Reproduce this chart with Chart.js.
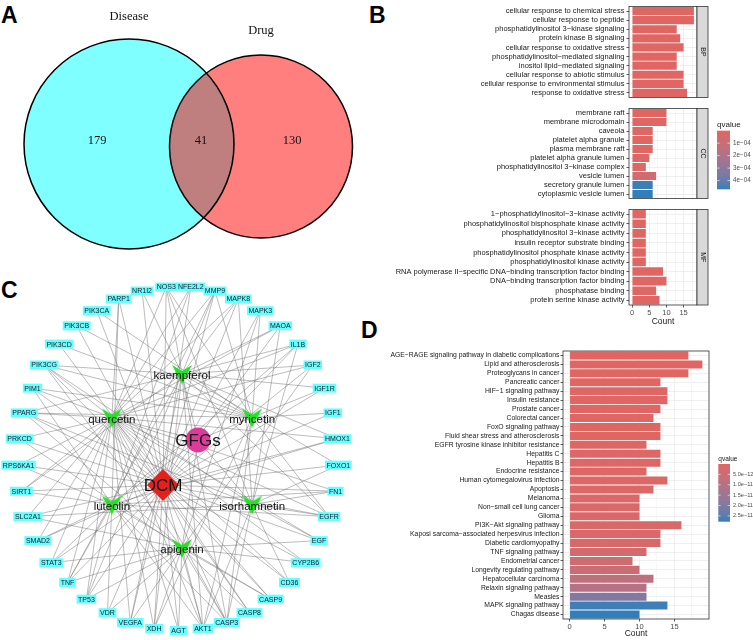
<!DOCTYPE html>
<html>
<head>
<meta charset="utf-8">
<script src="https://cdn.jsdelivr.net/npm/chart.js@4.4.0/dist/chart.umd.min.js"></script>
<style>
html, body { margin: 0; padding: 0; background: #fff; width: 753px; height: 640px; overflow: hidden; }
canvas { position: absolute; }
.tag { position: absolute; font: bold 23px "Liberation Sans", Arial, sans-serif; line-height: 23px; color: #000; }
</style>
</head>
<body>
<div class="tag" style="left:1px;top:4px">A</div>
<div class="tag" style="left:369px;top:4px">B</div>
<div class="tag" style="left:1px;top:279px">C</div>
<div class="tag" style="left:361px;top:319px">D</div>

<canvas id="venn" width="370" height="275" style="left:0;top:0"></canvas>
<canvas id="bp" width="373" height="104" style="left:380px;top:0"></canvas>
<canvas id="cc" width="373" height="103" style="left:380px;top:102px"></canvas>
<canvas id="mf" width="383" height="126" style="left:370px;top:203px"></canvas>
<canvas id="net" width="368" height="362" style="left:0;top:278px"></canvas>
<canvas id="kegg" width="383" height="295" style="left:370px;top:345px"></canvas>

<script>
// ---- données ----
// A : Venn
var vennNames = ['Disease', 'Drug'];
var vennCounts = [179, 41, 130];   // seulement Disease, commun, seulement Drug

// B : GO
var bpTerms = ['cellular response to chemical stress', 'cellular response to peptide', 'phosphatidylinositol 3\u2212kinase signaling',
  'protein kinase B signaling', 'cellular response to oxidative stress', 'phosphatidylinositol\u2212mediated signaling',
  'inositol lipid\u2212mediated signaling', 'cellular response to abiotic stimulus', 'cellular response to environmental stimulus',
  'response to oxidative stress'];
var bpCount = [18, 18, 13, 14, 15, 13, 13, 15, 15, 16];
var bpQ = [2e-7, 3e-7, 4e-7, 5e-7, 6e-7, 7e-7, 7e-7, 8e-7, 8e-7, 9e-7];

var ccTerms = ['membrane raft', 'membrane microdomain', 'caveola', 'platelet alpha granule', 'plasma membrane raft',
  'platelet alpha granule lumen', 'phosphatidylinositol 3\u2212kinase complex', 'vesicle lumen', 'secretory granule lumen',
  'cytoplasmic vesicle lumen'];
var ccCount = [10, 10, 6, 6, 6, 5, 4, 7, 6, 6];
var ccQ = [2e-6, 2e-6, 5e-6, 8e-6, 8e-6, 1.5e-5, 2e-5, 6e-5, 4.6e-4, 4.7e-4];

var mfTerms = ['1\u2212phosphatidylinositol\u22123\u2212kinase activity', 'phosphatidylinositol bisphosphate kinase activity',
  'phosphatidylinositol 3\u2212kinase activity', 'insulin receptor substrate binding', 'phosphatidylinositol phosphate kinase activity',
  'phosphatidylinositol kinase activity', 'RNA polymerase II\u2212specific DNA\u2212binding transcription factor binding',
  'DNA\u2212binding transcription factor binding', 'phosphatase binding', 'protein serine kinase activity'];
var mfCount = [4, 4, 4, 4, 4, 4, 9, 10, 7, 8];
var mfQ = [1e-6, 1e-6, 1e-6, 1e-6, 2e-6, 2e-6, 3e-6, 3e-6, 4e-6, 5e-6];
var bQticks = [1e-4, 2e-4, 3e-4, 4e-4];
var bQlabels = ['1e\u221204', '2e\u221204', '3e\u221204', '4e\u221204'];

// C : réseau
var genes = ['AGT', 'AKT1', 'CASP3', 'CASP8', 'CASP9', 'CD36', 'CYP2B6', 'EGF', 'EGFR', 'FN1', 'FOXO1', 'HMOX1', 'IGF1',
  'IGF1R', 'IGF2', 'IL1B', 'MAOA', 'MAPK3', 'MAPK8', 'MMP9', 'NFE2L2', 'NOS3', 'NR1I2', 'PARP1', 'PIK3CA', 'PIK3CB',
  'PIK3CD', 'PIK3CG', 'PIM1', 'PPARG', 'PRKCD', 'RPS6KA1', 'SIRT1', 'SLC2A1', 'SMAD2', 'STAT3', 'TNF', 'TP53', 'VDR',
  'VEGFA', 'XDH'];
var compounds = ['kaempferol', 'myricetin', 'isorhamnetin', 'apigenin', 'luteolin', 'quercetin'];
var quercetinTargets = ['AKT1', 'TNF', 'VEGFA', 'TP53', 'CASP3', 'CASP8', 'CASP9', 'EGFR', 'EGF', 'IL1B', 'MMP9', 'MAPK8', 'NOS3',
  'NFE2L2', 'HMOX1', 'PPARG', 'PIM1', 'PRKCD', 'SIRT1', 'STAT3', 'SLC2A1', 'PARP1', 'PIK3CG', 'XDH', 'FN1', 'CD36', 'MAOA',
  'IGF2', 'CYP2B6', 'AGT', 'RPS6KA1', 'SMAD2'];
var kaempferolTargets = ['AKT1', 'PPARG', 'CASP3', 'TNF', 'NOS3', 'PIK3CG', 'MAPK8', 'VEGFA', 'SIRT1', 'IGF1R', 'HMOX1', 'EGFR',
  'MMP9', 'FOXO1', 'IL1B', 'MAOA', 'NR1I2', 'XDH', 'IGF2', 'TP53'];
var myricetinTargets = ['PIK3CA', 'PIK3CB', 'PIK3CD', 'PIK3CG', 'AKT1', 'MAPK3', 'MMP9', 'NOS3', 'IGF1R', 'IGF1', 'EGFR', 'XDH',
  'CASP3', 'PIM1', 'PPARG'];
var luteolinTargets = ['AKT1', 'TNF', 'TP53', 'STAT3', 'EGFR', 'MMP9', 'CASP3', 'CASP9', 'SIRT1', 'PIM1', 'PARP1', 'IL1B', 'NFE2L2',
  'HMOX1', 'SMAD2', 'RPS6KA1', 'FN1', 'VDR'];
var isorhamnetinTargets = ['AKT1', 'PIK3CG', 'CASP3', 'MAPK8', 'PPARG', 'FOXO1', 'FN1', 'EGF', 'NOS3', 'MAOA', 'IL1B', 'CD36',
  'EGFR', 'SLC2A1'];
var apigeninTargets = ['AKT1', 'CASP3', 'CASP8', 'CASP9', 'TP53', 'VEGFA', 'STAT3', 'TNF', 'PPARG', 'PIK3CG', 'VDR', 'AGT', 'XDH',
  'CYP2B6', 'IGF2', 'EGF', 'MAPK3', 'SLC2A1', 'PRKCD'];

// D : KEGG
var keggTerms = ['AGE\u2212RAGE signaling pathway in diabetic complications', 'Lipid and atherosclerosis', 'Proteoglycans in cancer',
  'Pancreatic cancer', 'HIF\u22121 signaling pathway', 'Insulin resistance', 'Prostate cancer', 'Colorectal cancer',
  'FoxO signaling pathway', 'Fluid shear stress and atherosclerosis', 'EGFR tyrosine kinase inhibitor resistance',
  'Hepatitis C', 'Hepatitis B', 'Endocrine resistance', 'Human cytomegalovirus infection', 'Apoptosis', 'Melanoma',
  'Non\u2212small cell lung cancer', 'Glioma', 'PI3K\u2212Akt signaling pathway', 'Kaposi sarcoma\u2212associated herpesvirus infection',
  'Diabetic cardiomyopathy', 'TNF signaling pathway', 'Endometrial cancer', 'Longevity regulating pathway',
  'Hepatocellular carcinoma', 'Relaxin signaling pathway', 'Measles', 'MAPK signaling pathway', 'Chagas disease'];
var keggCount = [17, 19, 17, 13, 14, 14, 13, 12, 13, 13, 11, 13, 13, 11, 14, 12, 10, 10, 10, 16, 13, 13, 11, 9, 10, 12, 11, 11, 14, 10];
var keggQ = [6e-15, 6e-14, 1e-13, 1.5e-13, 2.4e-13, 2.4e-13, 3e-13, 4e-13, 4.5e-13, 4.5e-13, 6e-13, 8e-13, 8e-13, 1.1e-12,
  1.3e-12, 1.4e-12, 1.6e-12, 1.6e-12, 1.6e-12, 1.8e-12, 2.2e-12, 2.2e-12, 3.3e-12, 4.4e-12, 5.6e-12, 8.2e-12, 1.05e-11,
  1.95e-11, 2.7e-11, 2.78e-11];
var keggQticks = [5e-12, 1e-11, 1.5e-11, 2e-11, 2.5e-11];
var keggQlabels = ['5.0e\u221212', '1.0e\u221211', '1.5e\u221211', '2.0e\u221211', '2.5e\u221211'];

// ---- réglages communs ----
Chart.defaults.font.family = '"Liberation Sans", Arial, sans-serif';
Chart.defaults.animation = false;
Chart.defaults.responsive = false;
Chart.defaults.events = [];
Chart.defaults.plugins.legend.display = false;
Chart.defaults.plugins.tooltip.enabled = false;
Chart.defaults.layout.autoPadding = false;

// couleurs qvalue : interpolation Lab entre rouge et bleu (comme ggplot)
function hexRgb(h) {
  return [parseInt(h.substr(1, 2), 16), parseInt(h.substr(3, 2), 16), parseInt(h.substr(5, 2), 16)];
}
function toLab(c) {
  var v = c.map(function (k) { k /= 255; return k > 0.04045 ? Math.pow((k + 0.055) / 1.055, 2.4) : k / 12.92; });
  var x = (v[0] * 0.4124 + v[1] * 0.3576 + v[2] * 0.1805) / 0.95047;
  var y = v[0] * 0.2126 + v[1] * 0.7152 + v[2] * 0.0722;
  var z = (v[0] * 0.0193 + v[1] * 0.1192 + v[2] * 0.9505) / 1.08883;
  var f = function (t) { return t > 0.008856 ? Math.cbrt(t) : 7.787 * t + 16 / 116; };
  x = f(x); y = f(y); z = f(z);
  return [116 * y - 16, 500 * (x - y), 200 * (y - z)];
}
function fromLab(l) {
  var y = (l[0] + 16) / 116, x = l[1] / 500 + y, z = y - l[2] / 200;
  var g = function (t) { return t * t * t > 0.008856 ? t * t * t : (t - 16 / 116) / 7.787; };
  x = g(x) * 0.95047; y = g(y); z = g(z) * 1.08883;
  var rgb = [x * 3.2406 - y * 1.5372 - z * 0.4986, -x * 0.9689 + y * 1.8758 + z * 0.0415, x * 0.0557 - y * 0.2040 + z * 1.0570];
  return rgb.map(function (k) {
    k = k > 0.0031308 ? 1.055 * Math.pow(k, 1 / 2.4) - 0.055 : 12.92 * k;
    return Math.round(Math.max(0, Math.min(1, k)) * 255);
  });
}
var LOW = toLab(hexRgb('#e06663')), HIGH = toLab(hexRgb('#327eba'));
function qColor(q, lo, hi) {
  var t = Math.max(0, Math.min(1, (q - lo) / (hi - lo)));
  var c = fromLab(LOW.map(function (v, i) { return v + (HIGH[i] - v) * t; }));
  return 'rgb(' + c[0] + ',' + c[1] + ',' + c[2] + ')';
}

var allB = bpQ.concat(ccQ, mfQ);
var bQmin = Math.min.apply(null, allB), bQmax = Math.max.apply(null, allB);
var kQmin = Math.min.apply(null, keggQ), kQmax = Math.max.apply(null, keggQ);

// ---- A : diagramme de Venn ----
var vennLayout = [{ x: 129, y: 144, r: 105 }, { x: 261, y: 146.5, r: 91.5 }];
function radiusPx(ctx, r) {
  var sx = ctx.chart.scales.x;
  return sx.getPixelForValue(r) - sx.getPixelForValue(0);
}
var vennText = {
  id: 'vennText',
  afterDatasetsDraw: function (chart) {
    var c = chart.ctx, sx = chart.scales.x, sy = chart.scales.y;
    c.save();
    c.fillStyle = '#111';
    c.textAlign = 'center';
    c.textBaseline = 'middle';
    c.font = '12.5px "Liberation Serif", "Times New Roman", serif';
    c.fillText(vennNames[0], sx.getPixelForValue(129), sy.getPixelForValue(17));
    c.fillText(vennNames[1], sx.getPixelForValue(261), sy.getPixelForValue(30.5));
    var pos = [97, 201, 292];
    vennCounts.forEach(function (n, i) {
      c.fillText(String(n), sx.getPixelForValue(pos[i]), sy.getPixelForValue(141));
    });
    c.restore();
  }
};
new Chart(document.getElementById('venn'), {
  type: 'scatter',
  data: {
    datasets: [
      { data: [vennLayout[0]], order: 1, pointRadius: function (ctx) { return radiusPx(ctx, vennLayout[0].r); },
        backgroundColor: 'rgba(0,0,0,0)', borderColor: '#000', borderWidth: 1.5 },
      { data: [vennLayout[1]], order: 2, pointRadius: function (ctx) { return radiusPx(ctx, vennLayout[1].r); },
        backgroundColor: 'rgba(0,0,0,0)', borderColor: '#000', borderWidth: 1.5 },
      { data: [vennLayout[1]], order: 3, pointRadius: function (ctx) { return radiusPx(ctx, vennLayout[1].r); },
        backgroundColor: 'rgba(255,0,0,0.5)', borderWidth: 0 },
      { data: [vennLayout[0]], order: 4, pointRadius: function (ctx) { return radiusPx(ctx, vennLayout[0].r); },
        backgroundColor: 'rgba(0,255,255,0.5)', borderWidth: 0 }
    ]
  },
  options: {
    layout: { padding: 0 },
    scales: {
      x: { type: 'linear', min: 0, max: 370, display: false },
      y: { type: 'linear', min: 0, max: 275, reverse: true, display: false }
    }
  },
  plugins: [vennText]
});

// ---- B / D : barres ----
function xScale(min, max, withAxis, height) {
  return {
    type: 'linear', min: min, max: max,
    afterFit: function (s) { s.height = withAxis ? height : 0; },
    border: { display: false },
    grid: {
      color: '#ebebeb',
      lineWidth: function (ctx) { return ctx.tick && ctx.tick.value % 5 === 0 ? 0.8 : 0.4; },
      drawTicks: withAxis, tickLength: 2.5,
      tickColor: function (ctx) { return ctx.tick && ctx.tick.value % 5 === 0 ? '#333' : 'rgba(0,0,0,0)'; }
    },
    ticks: {
      display: withAxis, stepSize: 2.5, includeBounds: false, autoSkip: false, maxRotation: 0,
      padding: 0.5, color: '#4d4d4d', font: { size: 7.5 },
      callback: function (v) { return v % 5 === 0 ? v : ''; }
    },
    title: { display: withAxis, text: 'Count', color: '#1a1a1a', font: { size: 8.5 }, padding: 0 }
  };
}
function yScale(width, size, pad) {
  return {
    type: 'category',
    afterFit: function (s) { s.width = width; },
    border: { display: false },
    grid: { color: '#ebebeb', lineWidth: 0.8, offset: false, tickLength: 2.5, tickColor: '#333' },
    ticks: { autoSkip: false, color: '#1a1a1a', font: { size: size }, padding: pad }
  };
}
function drawColourBar(c, x, y0, y1, w, lo, hi, ticks, labels, title, tSize, lSize) {
  var grad = c.createLinearGradient(0, y0, 0, y1);
  for (var i = 0; i <= 20; i++) grad.addColorStop(i / 20, qColor(lo + (hi - lo) * i / 20, lo, hi));
  c.fillStyle = grad;
  c.fillRect(x, y0, w, y1 - y0);
  c.fillStyle = '#1a1a1a';
  c.font = tSize + 'px "Liberation Sans", Arial, sans-serif';
  c.textAlign = 'left';
  c.textBaseline = 'bottom';
  c.fillText(title, x, y0 - 2);
  c.font = lSize + 'px "Liberation Sans", Arial, sans-serif';
  c.textBaseline = 'middle';
  ticks.forEach(function (t, i) {
    var ty = y0 + (t - lo) / (hi - lo) * (y1 - y0);
    c.strokeStyle = '#fff';
    c.lineWidth = 0.6;
    c.beginPath();
    c.moveTo(x, ty); c.lineTo(x + w * 0.2, ty);
    c.moveTo(x + w * 0.8, ty); c.lineTo(x + w, ty);
    c.stroke();
    c.fillStyle = '#4d4d4d';
    c.fillText(labels[i], x + w + 3, ty);
  });
}
function panelPlugin(stripText, legend) {
  return {
    id: 'panel',
    afterDatasetsDraw: function (chart) {
      var a = chart.chartArea, c = chart.ctx;
      c.save();
      c.strokeStyle = '#333';
      c.lineWidth = 0.8;
      c.strokeRect(a.left, a.top, a.right - a.left, a.bottom - a.top);
      if (stripText) {
        c.fillStyle = '#d9d9d9';
        c.fillRect(a.right, a.top, 11, a.bottom - a.top);
        c.strokeRect(a.right, a.top, 11, a.bottom - a.top);
        c.save();
        c.translate(a.right + 5.5, (a.top + a.bottom) / 2);
        c.rotate(Math.PI / 2);
        c.fillStyle = '#1a1a1a';
        c.font = '7px "Liberation Sans", Arial, sans-serif';
        c.textAlign = 'center';
        c.textBaseline = 'middle';
        c.fillText(stripText, 0, 0);
        c.restore();
      }
      if (legend) legend(c);
      c.restore();
    }
  };
}
function facet(id, terms, counts, qs, stripText, withAxis, yWidth, legend) {
  return new Chart(document.getElementById(id), {
    type: 'bar',
    data: {
      labels: terms,
      datasets: [{ data: counts, backgroundColor: qs.map(function (q) { return qColor(q, bQmin, bQmax); }),
        barPercentage: 0.9, categoryPercentage: 1, borderWidth: 0 }]
    },
    options: {
      indexAxis: 'y',
      layout: { padding: { top: 3, bottom: withAxis ? 2 : 3, left: 0, right: 56 } },
      scales: { x: xScale(-0.9, 18.9, withAxis, 22), y: yScale(yWidth, 7.5, 2) }
    },
    plugins: [panelPlugin(stripText, legend)]
  });
}
facet('bp', bpTerms, bpCount, bpQ, 'BP', false, 249, null);
facet('cc', ccTerms, ccCount, ccQ, 'CC', false, 249, function (c) {
  drawColourBar(c, 337, 28.7, 87.3, 13, bQmin, bQmax, bQticks, bQlabels, 'qvalue', 8, 6.3);
});
facet('mf', mfTerms, mfCount, mfQ, 'MF', true, 259, null);

new Chart(document.getElementById('kegg'), {
  type: 'bar',
  data: {
    labels: keggTerms,
    datasets: [{ data: keggCount, backgroundColor: keggQ.map(function (q) { return qColor(q, kQmin, kQmax); }),
      barPercentage: 0.9, categoryPercentage: 1, borderWidth: 0 }]
  },
  options: {
    indexAxis: 'y',
    layout: { padding: { top: 6, bottom: 1, left: 0, right: 44 } },
    scales: { x: xScale(-0.95, 19.95, true, 20), y: yScale(193, 6.8, 1) }
  },
  plugins: [panelPlugin(null, function (c) {
    drawColourBar(c, 348.3, 119, 176.7, 11.7, kQmin, kQmax, keggQticks, keggQlabels, 'qvalue', 6.5, 5.6);
  })]
});

// ---- C : réseau ----
var netCentre = { x: 178.5, y: 458.5, rx: 160, ry: 172 };
var hexCentre = { x: 182, y: 461, rx: 81, ry: 87 };
var compoundAngle = [-90, -30, 30, 90, 150, 210];
var hubPos = { GFGs: { x: 198, y: 440 }, DCM: { x: 163, y: 485 } };

var genePos = {};
genes.forEach(function (g, i) {
  var a = (90 - i * 360 / genes.length) * Math.PI / 180;
  genePos[g] = { x: netCentre.x + netCentre.rx * Math.cos(a), y: netCentre.y + netCentre.ry * Math.sin(a) };
});
var compPos = {};
compounds.forEach(function (n, i) {
  var a = compoundAngle[i] * Math.PI / 180;
  compPos[n] = { x: hexCentre.x + hexCentre.rx * Math.cos(a), y: hexCentre.y + hexCentre.ry * Math.sin(a) };
});
var targets = {
  quercetin: quercetinTargets, kaempferol: kaempferolTargets, myricetin: myricetinTargets,
  luteolin: luteolinTargets, isorhamnetin: isorhamnetinTargets, apigenin: apigeninTargets
};
var edgePts = [];
function addEdge(p, q) { edgePts.push({ x: p.x, y: p.y }, { x: q.x, y: q.y }, { x: NaN, y: NaN }); }
compounds.forEach(function (n) {
  addEdge(hubPos.GFGs, compPos[n]);
  targets[n].forEach(function (g) { addEdge(compPos[n], genePos[g]); });
});
genes.forEach(function (g) { addEdge(hubPos.DCM, genePos[g]); });

// forme en V verte des composés
var vShape = document.createElement('canvas');
vShape.width = 20; vShape.height = 20;
(function () {
  var c = vShape.getContext('2d');
  c.fillStyle = '#22e322';
  c.beginPath();
  c.moveTo(0, 1); c.lineTo(10, 7); c.lineTo(20, 1); c.lineTo(10, 20);
  c.closePath();
  c.fill();
})();

var netLabels = {
  id: 'netLabels',
  afterDatasetsDraw: function (chart) {
    var c = chart.ctx;
    c.save();
    c.textAlign = 'center';
    c.textBaseline = 'middle';
    c.font = '7px "Liberation Sans", Arial, sans-serif';
    chart.getDatasetMeta(4).data.forEach(function (el, i) {
      var w = c.measureText(genes[i]).width + 3;
      c.fillStyle = '#66ffff';
      c.fillRect(el.x - w / 2, el.y - 4.5, w, 9);
      c.fillStyle = '#1a1a2a';
      c.fillText(genes[i], el.x, el.y + 0.5);
    });
    c.fillStyle = '#111';
    c.font = '11.5px "Liberation Sans", Arial, sans-serif';
    chart.getDatasetMeta(1).data.forEach(function (el, i) {
      c.fillText(compounds[i], el.x, el.y + 2);
    });
    c.font = '17px "Liberation Sans", Arial, sans-serif';
    var g = chart.getDatasetMeta(2).data[0], d = chart.getDatasetMeta(3).data[0];
    c.fillText('GFGs', g.x, g.y + 1);
    c.fillText('DCM', d.x, d.y + 1);
    c.restore();
  }
};
new Chart(document.getElementById('net'), {
  type: 'scatter',
  data: {
    datasets: [
      { type: 'line', data: edgePts, order: 10, showLine: true, spanGaps: false, pointRadius: 0,
        borderColor: 'rgba(105,105,105,0.75)', borderWidth: 0.6, fill: false },
      { data: compounds.map(function (n) { return compPos[n]; }), order: 3, pointStyle: vShape, pointRadius: 10 },
      { data: [hubPos.GFGs], order: 2, pointStyle: 'circle', pointRadius: 12.5, backgroundColor: '#de3a9b', borderWidth: 0 },
      { data: [hubPos.DCM], order: 1, pointStyle: 'rectRot', pointRadius: 16, backgroundColor: '#e3211f', borderWidth: 0 },
      { data: genes.map(function (g) { return genePos[g]; }), order: 0, pointRadius: 0 }
    ]
  },
  options: {
    layout: { padding: 0 },
    scales: {
      x: { type: 'linear', min: 0, max: 368, display: false },
      y: { type: 'linear', min: 278, max: 640, reverse: true, display: false }
    }
  },
  plugins: [netLabels]
});
</script>
</body>
</html>
